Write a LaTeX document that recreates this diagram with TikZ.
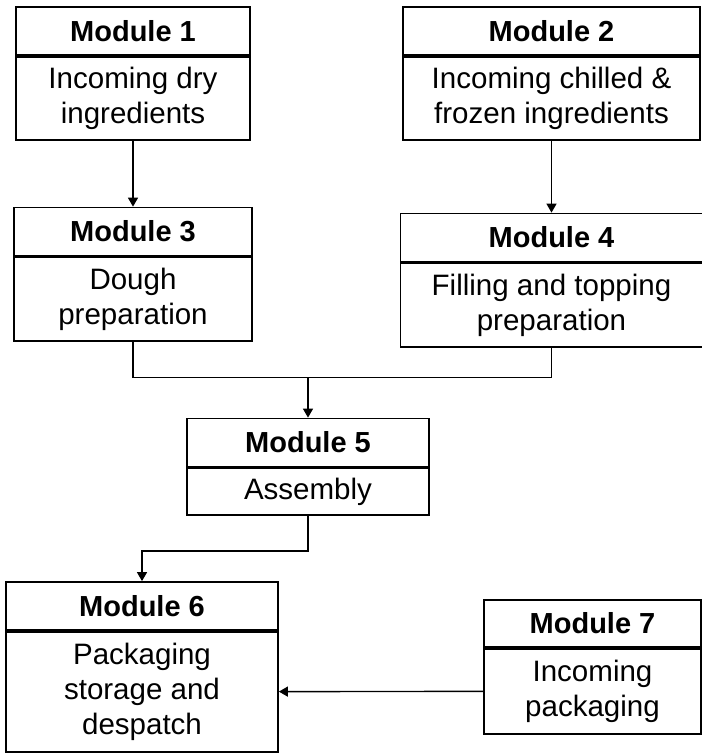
\documentclass[tikz,border=0pt]{standalone}
\usepackage{fontspec}
\setmainfont{Liberation Sans}
\usetikzlibrary{positioning, arrows.meta, calc}

\begin{document}
\begin{tikzpicture}[
    head/.style={draw, line width=1pt, minimum height=0.96cm, inner sep=0pt, align=center, font=\fontsize{16.5}{20}\selectfont\bfseries},
    body/.style={draw, line width=1pt, inner sep=0pt, align=center, font=\fontsize{16.8}{20}\selectfont},
    arrow/.style={-{Triangle[length=0.18cm, width=0.2cm]}, line width=0.8pt},
    link/.style={line width=0.8pt}
]
    \useasboundingbox (0,0) rectangle (14.04,-15.1);

    % Top row: incoming ingredients
    \node[head, minimum width=4.68cm] (m1h) at (2.66,-0.62) {Module 1};
    \node[body, minimum width=4.68cm, minimum height=1.66cm, below=0cm of m1h] (m1) {Incoming dry\\ingredients};
    \node[head, minimum width=5.94cm] (m2h) at (11.03,-0.62) {Module 2};
    \node[body, minimum width=5.94cm, minimum height=1.66cm, below=0cm of m2h] (m2) {Incoming chilled \&\\frozen ingredients};

    % Preparation
    \node[head, minimum width=4.76cm, below=1.32cm of m1] (m3h) {Module 3};
    \node[body, minimum width=4.76cm, minimum height=1.68cm, below=0cm of m3h] (m3) {Dough\\preparation};
    \node[head, minimum width=6.04cm, below=1.44cm of m2] (m4h) {Module 4};
    \node[body, minimum width=6.04cm, minimum height=1.68cm, below=0cm of m4h] (m4) {Filling and topping\\preparation};

    % Assembly
    \node[head, minimum width=4.84cm] (m5h) at (6.16,-8.85) {Module 5};
    \node[body, minimum width=4.84cm, minimum height=0.94cm, below=0cm of m5h] (m5) {Assembly};

    % Packaging
    \node[head, minimum width=5.44cm] (m6h) at (2.84,-12.12) {Module 6};
    \node[body, minimum width=5.44cm, minimum height=2.4cm, below=0cm of m6h] (m6) {Packaging\\storage and\\despatch};
    \node[head, minimum width=4.34cm, minimum height=0.94cm] (m7h) at (11.85,-12.47) {Module 7};
    \node[body, minimum width=4.34cm, minimum height=1.7cm, below=0cm of m7h] (m7) {Incoming\\packaging};

    % Connectors
    \draw[arrow] (m1) -- (m3h);
    \draw[arrow] (m2) -- (m4h);

    \coordinate (join) at ($(m5h.north)+(0,0.8)$);
    \draw[link] (m3.south) |- (join) -| (m4.south);
    \draw[arrow] (join) -- (m5h.north);

    \coordinate (bend) at ($(m5.south)+(0,-0.7)$);
    \draw[arrow] (m5.south) -- (bend) -| (m6h.north);

    \draw[arrow] (m7) -- (m6);

\end{tikzpicture}
\end{document}
